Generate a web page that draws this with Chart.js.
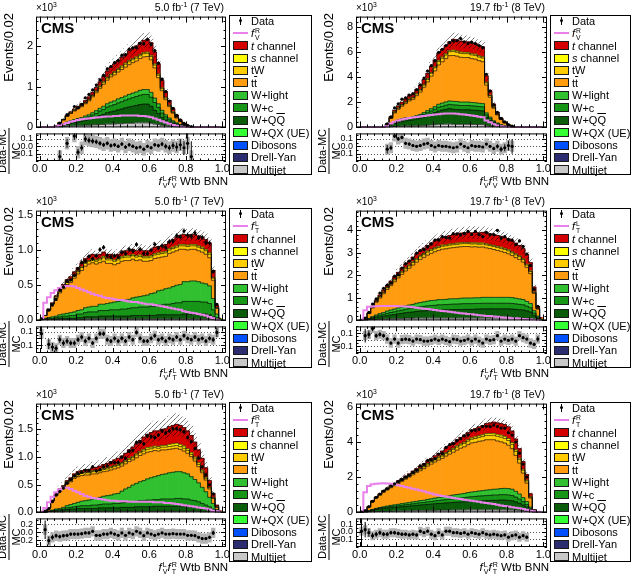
<!DOCTYPE html>
<html>
<head>
<meta charset="utf-8">
<script src="https://cdn.jsdelivr.net/npm/chart.js@4.4.1/dist/chart.umd.min.js"></script>
<style>
  html, body { margin: 0; background: #fff; }
  #fig { position: relative; width: 637px; height: 581px; overflow: hidden; font-family: "Liberation Sans", Arial, Helvetica, sans-serif; color: #000; }
  #fig canvas { position: absolute; }
  .t { position: absolute; white-space: nowrap; }
  .ss { display: inline-block; vertical-align: -0.4em; font-size: 0.62em; line-height: 0.95em; margin-left: 1px; text-align: left; font-style: normal; }
  .ss span { display: block; }
  sup { font-size: 0.68em; line-height: 0; vertical-align: 0.55em; }
  .leg { position: absolute; border: 1px solid #000; box-sizing: border-box; background: #fff; }
  .sw { position: absolute; box-sizing: border-box; border: 1px solid #1a1a1a; }
  .yt { position: absolute; width: 130px; text-align: right; transform-origin: 0 0; transform: rotate(-90deg) translateX(-130px); line-height: 15px; font-size: 13px; white-space: nowrap; }
  .rt { position: absolute; transform: translate(-50%, -50%) rotate(-90deg); text-align: center; font-size: 11px; line-height: 11px; white-space: nowrap; }
  .ov { text-decoration: overline; }
</style>
</head>
<body>
<div id="fig"></div>
<script>
// Events per 0.02 bin, in units of 10^3. Bins run 0.00-0.02 ... 0.98-1.00.
// Row 1 left: 7 TeV, f_V^R
const vr7_mj  = [0,0,0,0,.01,.01,.02,.03,.03,.04, .04,.04,.05,.05,.06,.06,.07,.07,.08,.08, .08,.09,.09,.10,.10,.10,.11,.11,.11,.11, .10,.08,.07,.05,.04,.03,.02,.01,.01,.01, 0,0,0,0,0,0,0,0,0,0];
const vr7_wqq = [0,0,0,0,.01,.02,.04,.05,.07,.08, .09,.11,.12,.14,.16,.19,.22,.25,.28,.30, .32,.34,.36,.38,.40,.42,.43,.45,.46,.46, .42,.34,.27,.19,.14,.10,.07,.05,.03,.02, .01,0,0,0,0,0,0,0,0,0];
const vr7_wc  = [0,0,0,0,0,.01,.02,.03,.03,.04, .05,.05,.06,.07,.08,.09,.11,.12,.14,.15, .16,.17,.18,.19,.20,.21,.22,.23,.24,.24, .22,.19,.15,.11,.08,.06,.04,.03,.02,.01, .01,0,0,0,0,0,0,0,0,0];
const vr7_wl  = [0,0,0,0,0,.01,.01,.02,.03,.03, .04,.04,.05,.05,.06,.07,.07,.08,.08,.09, .09,.10,.10,.10,.11,.11,.11,.12,.12,.12, .12,.11,.09,.07,.05,.04,.03,.02,.01,.01, 0,0,0,0,0,0,0,0,0,0];
const vr7_tt  = [0,0,0,0,.02,.06,.09,.14,.18,.21, .24,.27,.30,.34,.39,.44,.49,.54,.58,.62, .64,.66,.69,.71,.73,.75,.76,.78,.80,.81, .80,.74,.64,.48,.37,.28,.19,.12,.07,.03, .02,.01,0,0,0,0,0,0,0,0];
const vr7_tw  = [0,0,0,0,0,0,.01,.01,.01,.02, .02,.02,.02,.03,.03,.04,.04,.05,.05,.05, .06,.06,.06,.07,.07,.07,.07,.07,.08,.08, .08,.07,.06,.05,.04,.03,.02,.01,.01,0, 0,0,0,0,0,0,0,0,0,0];
const vr7_s   = [0,0,0,0,0,0,0,0,.01,.01, .01,.01,.01,.01,.01,.01,.02,.02,.02,.02, .02,.02,.03,.03,.03,.03,.03,.03,.03,.03, .03,.03,.03,.02,.02,.01,.01,.01,0,0, 0,0,0,0,0,0,0,0,0,0];
const vr7_t   = [0,0,0,0,0,.01,.01,.02,.02,.02, .03,.04,.05,.06,.07,.08,.10,.12,.15,.17, .19,.20,.21,.22,.24,.26,.27,.29,.30,.31, .31,.29,.25,.18,.14,.11,.08,.05,.03,.02, .01,.01,0,0,0,0,0,0,0,0];
const vr7_sig = [0,0,0,0,.02,.05,.08,.11,.14,.16, .18,.20,.21,.22,.23,.24,.25,.26,.27,.27, .28,.28,.29,.29,.29,.29,.29,.28,.28,.27, .25,.22,.19,.15,.12,.09,.06,.04,.02,.01, .01,0,0,0,0,0,0,0,0,0];
const vr7_ratio = [null,null,null,null,null,-.14,null,.04,null,.14, -.08,-.02,.10,.08,.07,.06,.04,.02,.04,.01, .02,0,.03,-.01,.02,0,-.02,-.01,-.04,0, -.02,.02,.01,.03,0,-.02,.01,-.01,.02,-.02, .04,-.14,null,null,null,null,null,null,null,null];

// Row 1 right: 8 TeV, f_V^R
const vr8_mj  = [0,0,0,0,0,0,0,.02,.04,.07, .09,.10,.11,.10,.11,.12,.13,.15,.17,.19, .21,.24,.25,.26,.27,.25,.24,.24,.24,.24, .23,.23,.23,.22,.12,.09,.06,.04,.02,.01, .01,0,0,0,0,0,0,0,0,0];
const vr8_wqq = [0,0,0,0,0,0,0,.05,.15,.24, .31,.36,.41,.45,.48,.54,.60,.68,.77,.87, .96,1.06,1.12,1.17,1.22,1.19,1.18,1.16,1.16,1.16, 1.14,1.13,1.10,1.09,.66,.46,.30,.19,.12,.07, .04,.02,0,0,0,0,0,0,0,0];
const vr8_wc  = [0,0,0,0,0,0,0,.02,.05,.08, .10,.12,.13,.13,.13,.15,.17,.19,.22,.24, .27,.30,.31,.33,.34,.35,.35,.34,.34,.34, .34,.33,.33,.32,.21,.15,.09,.06,.04,.02, .01,.01,0,0,0,0,0,0,0,0];
const vr8_wl  = [0,0,0,0,0,0,0,.02,.04,.07, .09,.10,.11,.10,.11,.12,.13,.15,.17,.19, .21,.24,.25,.26,.27,.28,.28,.27,.27,.27, .27,.27,.26,.26,.16,.12,.07,.05,.03,.02, .01,0,0,0,0,0,0,0,0,0];
const vr8_tt  = [0,0,0,0,0,0,0,.13,.43,.68, .85,1.00,1.13,1.32,1.40,1.59,1.78,2.02,2.28,2.58, 2.84,3.12,3.28,3.44,3.60,3.64,3.61,3.56,3.54,3.54, 3.48,3.46,3.38,3.33,2.21,1.57,1.00,.65,.41,.24, .12,.05,0,0,0,0,0,0,0,0];
const vr8_tw  = [0,0,0,0,0,0,0,.02,.04,.07, .08,.10,.11,.11,.12,.14,.15,.17,.19,.22, .24,.27,.28,.29,.31,.32,.31,.31,.31,.31, .30,.30,.29,.29,.18,.13,.08,.05,.03,.02, .01,.01,0,0,0,0,0,0,0,0];
const vr8_s   = [0,0,0,0,0,0,0,.01,.02,.03, .03,.04,.04,.04,.04,.05,.05,.06,.07,.07, .08,.09,.09,.10,.10,.11,.10,.10,.10,.10, .10,.10,.10,.10,.06,.04,.03,.02,.01,.01, 0,0,0,0,0,0,0,0,0,0];
const vr8_t   = [0,0,0,0,0,0,0,.03,.08,.12, .15,.18,.21,.25,.26,.29,.34,.38,.43,.49, .54,.58,.62,.65,.69,.86,.88,.87,.84,.84, .84,.83,.81,.79,.50,.34,.22,.14,.09,.05, .03,.01,0,0,0,0,0,0,0,0];
const vr8_sig = [0,0,0,0,0,0,0,.10,.30,.45, .55,.62,.68,.74,.78,.82,.86,.90,.94,.98, 1.02,1.05,1.08,1.10,1.10,1.10,1.08,1.05,1.02,.98, .94,.90,.85,.80,.55,.40,.26,.16,.10,.05, .02,.01,0,0,0,0,0,0,0,0];
const vr8_ratio = [null,null,null,null,null,null,null,-.04,-.02,.14, .10,.12,.04,.03,.01,0,.01,.03,.04,.01, -.01,.01,0,0,-.01,-.02,-.01,.03,0,-.02, .01,0,0,-.01,.03,0,-.03,0,-.04,-.02, .01,0,null,null,null,null,null,null,null,null];

// Row 2 left: 7 TeV, f_T^L
const tl7_mj  = [.01,.01,.01,.01,.01,.01,.01,.01,.01,.01, .01,.01,.02,.02,.02,.02,.02,.02,.02,.02, .02,.02,.02,.02,.02,.02,.02,.02,.02,.02, .02,.02,.02,.02,.02,.02,.02,.02,.02,.02, .02,.02,.02,.02,.02,.02,.02,.01,0,0];
const tl7_wqq = [0,.01,.01,.01,.01,.02,.02,.02,.02,.02, .03,.03,.03,.03,.03,.03,.04,.04,.04,.04, .04,.04,.04,.04,.04,.05,.05,.05,.05,.05, .05,.05,.06,.06,.06,.06,.06,.06,.06,.07, .07,.07,.07,.07,.07,.07,.06,.04,.01,0];
const tl7_wc  = [0,0,.01,.01,.02,.02,.03,.03,.04,.04, .05,.05,.06,.07,.07,.07,.08,.08,.08,.09, .09,.09,.10,.10,.11,.11,.11,.12,.12,.12, .13,.13,.14,.14,.15,.15,.16,.17,.17,.18, .18,.18,.18,.18,.17,.17,.16,.10,.03,.01];
const tl7_wl  = [0,.01,.01,.02,.02,.03,.03,.04,.04,.05, .05,.06,.07,.07,.08,.08,.09,.09,.10,.10, .11,.12,.12,.13,.13,.14,.15,.15,.16,.17, .18,.19,.20,.21,.22,.23,.24,.25,.26,.28, .28,.29,.29,.28,.27,.26,.25,.16,.05,.01];
const tl7_tt  = [.01,.04,.10,.18,.25,.31,.36,.41,.43,.48, .52,.56,.59,.61,.62,.60,.59,.61,.57,.56, .53,.54,.56,.56,.55,.55,.52,.52,.49,.48, .47,.49,.47,.47,.46,.49,.49,.49,.50,.46, .45,.45,.45,.44,.44,.42,.40,.26,.08,.01];
const tl7_tw  = [0,0,.01,.01,.02,.02,.02,.03,.03,.03, .03,.04,.04,.04,.04,.04,.04,.05,.05,.05, .05,.05,.05,.05,.05,.05,.05,.05,.05,.05, .05,.05,.05,.05,.05,.05,.05,.05,.05,.05, .05,.05,.05,.05,.05,.05,.05,.03,.01,0];
const tl7_s   = [0,0,0,0,.01,.01,.01,.01,.01,.01, .01,.01,.01,.01,.02,.02,.02,.02,.02,.02, .02,.02,.02,.02,.02,.02,.02,.02,.02,.02, .02,.02,.02,.02,.02,.02,.02,.02,.02,.02, .02,.02,.02,.02,.02,.02,.02,.01,0,0];
const tl7_t   = [0,0,.01,.01,.01,.02,.03,.03,.04,.05, .05,.05,.06,.06,.06,.06,.06,.06,.06,.06, .06,.06,.06,.07,.07,.07,.07,.08,.08,.08, .08,.09,.09,.09,.10,.10,.11,.12,.13,.14, .14,.14,.14,.14,.14,.14,.14,.10,.03,0];
const tl7_sig = [.03,.25,.33,.39,.43,.46,.48,.49,.49,.48, .46,.44,.42,.40,.38,.36,.35,.33,.32,.31, .30,.29,.29,.28,.27,.26,.26,.25,.24,.23, .23,.22,.21,.20,.19,.18,.17,.16,.15,.13, .12,.11,.10,.09,.08,.07,.05,.03,.01,0];
const tl7_ratio = [.07,null,-.09,-.13,-.15,-.02,-.07,-.04,-.07,-.07, -.02,.02,-.04,0,-.07,0,.07,.07,-.02,-.04, 0,-.04,0,-.04,.02,-.02,.09,0,-.04,-.04, 0,.04,-.02,0,-.04,0,-.02,.02,-.02,.04, 0,-.02,.02,-.02,0,-.04,0,-.02,.09,null];

// Row 2 right: 8 TeV, f_T^L
const tl8_mj  = [.01,.01,.02,.03,.04,.05,.06,.06,.07,.07, .08,.08,.09,.09,.09,.10,.10,.10,.10,.10, .10,.10,.10,.10,.10,.10,.10,.10,.10,.10, .10,.10,.10,.10,.10,.10,.10,.10,.10,.10, .10,.10,.10,.09,.09,.08,.07,.04,.02,0];
const tl8_wqq = [0,.01,.03,.06,.09,.11,.13,.15,.17,.19, .21,.23,.25,.27,.28,.30,.31,.32,.33,.34, .35,.36,.36,.37,.37,.38,.38,.38,.39,.39, .39,.40,.40,.41,.41,.41,.41,.41,.41,.41, .41,.40,.39,.38,.37,.34,.30,.17,.07,.01];
const tl8_wc  = [0,.01,.02,.04,.06,.07,.08,.10,.11,.12, .13,.14,.15,.16,.17,.18,.19,.20,.21,.22, .22,.23,.23,.23,.24,.24,.24,.25,.25,.25, .25,.25,.25,.25,.25,.25,.25,.25,.25,.25, .25,.25,.24,.24,.23,.21,.19,.11,.05,.01];
const tl8_wl  = [0,0,.02,.04,.05,.07,.08,.10,.11,.12, .13,.14,.15,.16,.17,.18,.19,.20,.21,.22, .22,.23,.23,.23,.24,.24,.24,.25,.25,.25, .25,.25,.25,.26,.26,.26,.26,.26,.26,.26, .26,.26,.25,.24,.23,.21,.19,.11,.05,.01];
const tl8_tt  = [.01,.06,.21,.38,.56,.69,.83,.96,1.08,1.21, 1.33,1.45,1.55,1.63,1.74,1.82,1.91,1.97,2.04,2.09, 2.15,2.18,2.23,2.24,2.25,2.26,2.28,2.28,2.28,2.28, 2.26,2.26,2.24,2.23,2.19,2.16,2.12,2.08,2.04,1.99, 1.93,1.86,1.80,1.75,1.66,1.51,1.32,.76,.31,.06];
const tl8_tw  = [0,0,.01,.03,.04,.05,.06,.07,.07,.08, .09,.09,.10,.10,.11,.11,.12,.12,.13,.13, .13,.13,.13,.13,.13,.13,.13,.13,.13,.13, .13,.13,.13,.13,.13,.13,.13,.13,.13,.13, .13,.12,.12,.12,.11,.10,.09,.05,.02,0];
const tl8_s   = [0,0,.01,.01,.01,.02,.02,.02,.03,.03, .03,.04,.04,.04,.04,.05,.05,.05,.05,.05, .05,.05,.05,.05,.05,.05,.05,.05,.05,.05, .05,.05,.05,.05,.05,.05,.05,.05,.05,.05, .05,.05,.05,.04,.04,.04,.03,.02,.01,0];
const tl8_t   = [0,.01,.01,.03,.05,.06,.08,.09,.10,.12, .13,.15,.16,.18,.20,.21,.22,.24,.25,.27, .30,.32,.34,.36,.38,.40,.41,.42,.43,.45, .45,.46,.46,.47,.47,.47,.48,.48,.48,.48, .48,.48,.47,.46,.45,.42,.37,.22,.09,.03];
const tl8_sig = [.05,.45,.60,.62,.63,.64,.64,.64,.64,.64, .63,.63,.62,.60,.58,.56,.54,.52,.50,.48, .46,.44,.42,.40,.38,.36,.34,.32,.30,.28, .27,.25,.23,.22,.20,.19,.17,.16,.14,.13, .12,.10,.09,.08,.06,.05,.04,.03,.01,0];
const tl8_ratio = [null,.06,.08,.17,.06,.08,.06,.01,-.05,.01, -.05,0,.01,0,-.02,.01,0,-.02,-.02,-.01, .01,-.01,.01,-.01,-.03,.01,0,-.02,-.01,.01, -.02,.01,-.02,-.05,.01,-.01,0,.06,-.02,.01, -.01,.01,-.02,.06,.03,.01,-.05,-.07,.01,null];

// Row 3 left: 7 TeV, f_T^R
const tr7_mj  = [0,0,.01,.01,.01,.01,.01,.02,.02,.02, .02,.02,.02,.02,.02,.02,.02,.02,.02,.02, .02,.02,.02,.02,.02,.02,.02,.02,.02,.02, .02,.02,.02,.02,.02,.02,.02,.02,.02,.02, .02,.02,.02,.02,.01,.01,.01,.01,0,0];
const tr7_wqq = [0,0,.01,.01,.02,.02,.03,.03,.04,.04, .05,.05,.05,.05,.05,.05,.06,.06,.06,.06, .06,.06,.07,.07,.07,.07,.08,.08,.08,.08, .08,.09,.09,.09,.09,.09,.09,.09,.09,.09, .09,.08,.08,.07,.06,.05,.04,.02,.01,0];
const tr7_wc  = [0,0,0,.01,.01,.02,.02,.03,.03,.04, .04,.05,.05,.05,.06,.06,.06,.07,.07,.07, .08,.08,.08,.09,.09,.10,.10,.11,.11,.12, .12,.12,.12,.13,.13,.13,.13,.14,.14,.13, .13,.12,.11,.10,.09,.07,.05,.03,.01,0];
const tr7_wl  = [0,0,0,.01,.02,.02,.03,.04,.05,.06, .07,.08,.09,.10,.11,.12,.13,.14,.15,.16, .17,.18,.21,.24,.27,.30,.32,.34,.36,.38, .40,.41,.43,.44,.45,.47,.48,.48,.48,.47, .45,.42,.38,.34,.29,.24,.17,.10,.03,.01];
const tr7_tt  = [0,.02,.06,.16,.25,.31,.34,.39,.41,.45, .46,.46,.46,.45,.45,.44,.44,.44,.44,.45, .45,.46,.45,.45,.46,.45,.46,.47,.48,.48, .47,.47,.44,.44,.43,.42,.42,.42,.40,.39, .37,.36,.33,.29,.26,.21,.15,.09,.04,.01];
const tr7_tw  = [0,0,0,.01,.01,.02,.02,.03,.03,.03, .04,.04,.04,.04,.04,.04,.04,.04,.04,.04, .04,.04,.04,.04,.04,.04,.05,.05,.05,.05, .05,.05,.05,.05,.05,.05,.05,.05,.05,.05, .05,.04,.04,.04,.03,.03,.02,.01,.01,0];
const tr7_s   = [0,0,0,0,.01,.01,.01,.01,.01,.01, .01,.01,.01,.01,.02,.02,.02,.02,.02,.02, .02,.02,.02,.02,.02,.02,.02,.02,.03,.03, .03,.03,.03,.03,.03,.04,.04,.04,.04,.04, .03,.03,.03,.03,.02,.02,.01,.01,0,0];
const tr7_t   = [0,0,0,.01,.01,.01,.02,.02,.03,.04, .04,.04,.05,.05,.05,.06,.06,.07,.08,.09, .10,.11,.12,.13,.15,.17,.18,.20,.22,.24, .26,.27,.28,.29,.30,.32,.33,.34,.34,.33, .32,.31,.27,.23,.21,.17,.12,.07,.03,.01];
const tr7_sig = [.02,.08,.18,.28,.36,.41,.44,.44,.42,.39, .36,.33,.30,.28,.26,.25,.24,.23,.22,.21, .21,.20,.20,.20,.19,.19,.19,.19,.19,.19, .19,.18,.18,.18,.17,.17,.16,.15,.14,.13, .12,.11,.10,.09,.08,.07,.05,.03,.02,.01];
const tr7_ratio = [null,.06,-.21,-.13,-.09,-.11,-.09,-.08,-.05,-.05, -.05,-.04,-.02,-.02,.02,-.08,-.08,-.05,-.05,-.02, -.05,-.08,-.02,-.08,-.02,-.05,.02,-.02,-.09,-.02, -.05,-.08,-.05,-.02,-.05,-.05,-.04,-.05,-.05,-.05, -.08,-.08,-.09,-.13,-.16,-.16,-.13,-.02,null,null];

// Row 3 right: 8 TeV, f_T^R
const tr8_mj  = [.01,.01,.02,.03,.04,.05,.05,.06,.06,.07, .07,.08,.08,.09,.09,.10,.10,.10,.11,.11, .11,.12,.12,.12,.12,.13,.13,.13,.13,.14, .14,.14,.14,.14,.14,.14,.14,.14,.14,.14, .13,.13,.12,.10,.08,.06,.03,0,0,0];
const tr8_wqq = [0,.02,.05,.09,.12,.14,.16,.18,.20,.21, .23,.24,.26,.27,.29,.30,.32,.33,.35,.36, .38,.39,.40,.42,.43,.44,.45,.46,.47,.48, .49,.50,.51,.52,.53,.54,.55,.55,.56,.56, .55,.53,.48,.42,.34,.25,.12,.02,0,0];
const tr8_wc  = [0,0,.01,.03,.04,.05,.06,.06,.07,.08, .08,.09,.10,.10,.11,.12,.13,.13,.14,.15, .16,.17,.18,.19,.20,.21,.22,.23,.24,.25, .26,.27,.28,.28,.29,.29,.30,.30,.31,.31, .31,.30,.27,.24,.19,.14,.07,.01,0,0];
const tr8_wl  = [0,0,.01,.02,.03,.04,.05,.06,.07,.07, .08,.09,.09,.10,.11,.11,.12,.13,.14,.15, .16,.17,.18,.19,.20,.21,.22,.23,.24,.26, .27,.28,.29,.30,.31,.32,.33,.34,.35,.36, .37,.36,.33,.29,.23,.17,.08,.01,0,0];
const tr8_tt  = [.01,.07,.22,.44,.59,.70,.83,.92,1.00,1.09, 1.19,1.27,1.36,1.45,1.54,1.64,1.70,1.80,1.90,1.98, 2.06,2.13,2.20,2.29,2.37,2.44,2.53,2.61,2.66,2.73, 2.80,2.80,2.83,2.84,2.87,2.85,2.82,2.74,2.66,2.58, 2.47,2.31,2.05,1.76,1.40,1.05,.51,.07,.02,0];
const tr8_tw  = [0,0,.01,.02,.03,.04,.05,.05,.06,.06, .07,.07,.08,.08,.09,.10,.10,.11,.11,.12, .12,.13,.13,.14,.15,.16,.17,.18,.19,.20, .21,.22,.23,.24,.25,.25,.26,.27,.27,.27, .27,.25,.23,.20,.16,.12,.06,.01,0,0];
const tr8_s   = [0,0,.01,.01,.01,.01,.02,.02,.02,.02, .02,.03,.03,.03,.03,.04,.04,.04,.04,.05, .05,.05,.05,.06,.06,.06,.07,.07,.07,.08, .08,.09,.09,.10,.10,.11,.11,.11,.11,.11, .11,.10,.09,.08,.06,.05,.02,0,0,0];
const tr8_t   = [0,0,0,.02,.02,.03,.03,.04,.04,.05, .06,.06,.07,.08,.09,.09,.11,.13,.15,.16, .19,.20,.24,.26,.29,.31,.34,.37,.40,.41, .45,.47,.51,.53,.57,.60,.63,.65,.66,.67, .67,.66,.61,.54,.44,.33,.17,.03,.02,0];
const tr8_sig = [.10,1.15,1.50,1.60,1.63,1.65,1.66,1.65,1.63,1.60, 1.55,1.50,1.45,1.40,1.35,1.30,1.25,1.20,1.14,1.08, 1.02,.98,.94,.90,.86,.82,.79,.76,.72,.69, .66,.63,.60,.57,.54,.51,.48,.44,.40,.37, .33,.30,.26,.23,.19,.15,.10,.06,.03,.01];
const tr8_ratio = [.01,.03,-.01,-.05,-.03,-.01,-.03,-.03,-.01,-.01, -.02,-.03,-.03,-.04,-.03,-.04,.01,-.01,.01,-.03, -.05,-.01,-.04,.01,.01,-.01,-.01,-.02,-.01,-.03, -.01,-.02,-.03,-.01,-.03,-.04,-.03,-.04,-.05,-.04, -.07,-.05,-.04,-.07,-.05,-.07,null,null,null,null];

// relative MC uncertainty (hatched band / grey boxes)
const MC_UNC = { vr7: .08, vr8: .07, tl7: .07, tl8: .065, tr7: .12, tr8: .055 };

const BIN_CENTERS = Array.from({ length: 50 }, (_, i) => +(0.01 + 0.02 * i).toFixed(2));
const X_MAJOR = [0, 0.2, 0.4, 0.6, 0.8, 1.0];

// bottom to top
const STACK = ['mj', 'wqq', 'wc', 'wl', 'tt', 'tw', 's', 't'];
const COLORS = { t: '#d40000', s: '#ffff00', tw: '#ffcc00', tt: '#ff9c0f', wl: '#30c030', wc: '#179517', wqq: '#0a5c0a', wqx: '#33ff33', vv: '#0050ff', dy: '#2c2c70', mj: '#c8c8c8' };
const PINK = '#ea80ea';
const FONT = '"Liberation Sans", Arial, Helvetica, sans-serif';

Chart.defaults.font.family = FONT;
Chart.defaults.color = '#000';

const fig = document.getElementById('fig');

const PANELS = [
  { id: 'vr7', comp: { mj: vr7_mj, wqq: vr7_wqq, wc: vr7_wc, wl: vr7_wl, tt: vr7_tt, tw: vr7_tw, s: vr7_s, t: vr7_t }, sig: vr7_sig, ratio: vr7_ratio,
    L: 36, R: 226, top: 15, mid: 129, bot: 161, legX: 229, legY: 15, legW: 83, lumi: '5.0', tev: 7, sub: 'V', sup: 'R',
    yMax: 2.72, yTicks: [0, 1, 2], yMinor: 0.2, yDec: 0, rMin: -0.2, rMax: 0.175, rTicks: [-0.1, 0, 0.1], rMinor: 0.05 },
  { id: 'vr8', comp: { mj: vr8_mj, wqq: vr8_wqq, wc: vr8_wc, wl: vr8_wl, tt: vr8_tt, tw: vr8_tw, s: vr8_s, t: vr8_t }, sig: vr8_sig, ratio: vr8_ratio,
    L: 356, R: 547, top: 15, mid: 129, bot: 161, legX: 550, legY: 15, legW: 81, lumi: '19.7', tev: 8, sub: 'V', sup: 'R',
    yMax: 8.8, yTicks: [0, 2, 4, 6, 8], yMinor: 0.4, yDec: 0, rMin: -0.2, rMax: 0.175, rTicks: [-0.1, 0, 0.1], rMinor: 0.05 },
  { id: 'tl7', comp: { mj: tl7_mj, wqq: tl7_wqq, wc: tl7_wc, wl: tl7_wl, tt: tl7_tt, tw: tl7_tw, s: tl7_s, t: tl7_t }, sig: tl7_sig, ratio: tl7_ratio,
    L: 36, R: 226, top: 209, mid: 322, bot: 353, legX: 229, legY: 208, legW: 83, lumi: '5.0', tev: 7, sub: 'T', sup: 'L',
    yMax: 1.56, yTicks: [0, 0.5, 1, 1.5], yMinor: 0.1, yDec: 1, rMin: -0.22, rMax: 0.18, rTicks: [-0.1, 0, 0.1], rMinor: 0.05 },
  { id: 'tl8', comp: { mj: tl8_mj, wqq: tl8_wqq, wc: tl8_wc, wl: tl8_wl, tt: tl8_tt, tw: tl8_tw, s: tl8_s, t: tl8_t }, sig: tl8_sig, ratio: tl8_ratio,
    L: 356, R: 547, top: 209, mid: 322, bot: 353, legX: 550, legY: 208, legW: 81, lumi: '19.7', tev: 8, sub: 'T', sup: 'L',
    yMax: 4.86, yTicks: [0, 1, 2, 3, 4], yMinor: 0.2, yDec: 0, rMin: -0.2, rMax: 0.2, rTicks: [-0.1, 0, 0.1], rMinor: 0.05 },
  { id: 'tr7', comp: { mj: tr7_mj, wqq: tr7_wqq, wc: tr7_wc, wl: tr7_wl, tt: tr7_tt, tw: tr7_tw, s: tr7_s, t: tr7_t }, sig: tr7_sig, ratio: tr7_ratio,
    L: 36, R: 226, top: 402, mid: 514, bot: 547, legX: 229, legY: 402, legW: 83, lumi: '5.0', tev: 7, sub: 'T', sup: 'R',
    yMax: 1.95, yTicks: [0, 0.5, 1, 1.5], yMinor: 0.1, yDec: 1, rMin: -0.37, rMax: 0.34, rTicks: [-0.2, 0, 0.2], rMinor: 0.1 },
  { id: 'tr8', comp: { mj: tr8_mj, wqq: tr8_wqq, wc: tr8_wc, wl: tr8_wl, tt: tr8_tt, tw: tr8_tw, s: tr8_s, t: tr8_t }, sig: tr8_sig, ratio: tr8_ratio,
    L: 356, R: 547, top: 402, mid: 514, bot: 547, legX: 550, legY: 402, legW: 81, lumi: '19.7', tev: 8, sub: 'T', sup: 'R',
    yMax: 6.2, yTicks: [0, 2, 4, 6], yMinor: 0.4, yDec: 0, rMin: -0.2, rMax: 0.18, rTicks: [-0.1, 0, 0.1], rMinor: 0.05 }
];

function makeHatch() {
  const c = document.createElement('canvas');
  c.width = 5; c.height = 5;
  const g = c.getContext('2d');
  g.strokeStyle = 'rgba(0,0,0,0.65)';
  g.lineWidth = 0.7;
  g.beginPath();
  g.moveTo(0, 5); g.lineTo(5, 0);
  g.moveTo(-1, 1); g.lineTo(1, -1);
  g.moveTo(4, 6); g.lineTo(6, 4);
  g.stroke();
  return g.createPattern(c, 'repeat');
}
const HATCH = makeHatch();

// frame with inner ticks on all four sides, ROOT style
function framePlugin(yMajor, yMinorStep, dotted, tickLen) {
  return {
    id: 'frame',
    beforeDatasetsDraw(chart) {
      if (!dotted) return;
      const { ctx, chartArea: a, scales: { y } } = chart;
      ctx.save();
      ctx.strokeStyle = '#555';
      ctx.lineWidth = 1;
      ctx.setLineDash([1, 2]);
      for (const v of yMajor) {
        const py = Math.round(y.getPixelForValue(v)) + 0.5;
        ctx.beginPath(); ctx.moveTo(a.left, py); ctx.lineTo(a.right, py); ctx.stroke();
      }
      ctx.restore();
    },
    afterDatasetsDraw(chart) {
      const { ctx, chartArea: a, scales: { x, y } } = chart;
      ctx.save();
      ctx.strokeStyle = '#000';
      ctx.lineWidth = 1;
      ctx.beginPath();
      for (let k = 0; k <= 25; k++) {
        const len = k % 5 === 0 ? tickLen : tickLen / 2;
        const px = Math.round(x.getPixelForValue(k * 0.04)) + 0.5;
        ctx.moveTo(px, a.bottom); ctx.lineTo(px, a.bottom - len);
        ctx.moveTo(px, a.top); ctx.lineTo(px, a.top + len);
      }
      for (let k = Math.ceil(y.min / yMinorStep - 1e-6); k * yMinorStep <= y.max + 1e-9; k++) {
        const v = k * yMinorStep;
        const len = yMajor.some(m => Math.abs(m - v) < 1e-6) ? 5 : 2.5;
        const py = Math.round(y.getPixelForValue(v)) + 0.5;
        ctx.moveTo(a.left, py); ctx.lineTo(a.left + len, py);
        ctx.moveTo(a.right, py); ctx.lineTo(a.right - len, py);
      }
      ctx.stroke();
      ctx.strokeRect(a.left + 0.5, a.top + 0.5, a.right - a.left - 1, a.bottom - a.top - 1);
      ctx.restore();
    }
  };
}

function addCanvas(left, top, w, h) {
  const cv = document.createElement('canvas');
  cv.width = w; cv.height = h;
  cv.style.left = left + 'px';
  cv.style.top = top + 'px';
  fig.appendChild(cv);
  return cv;
}

function txt(html, left, top, css) {
  const d = document.createElement('div');
  d.className = 't';
  d.innerHTML = html;
  d.style.left = left + 'px';
  d.style.top = top + 'px';
  if (css) d.style.cssText += css;
  fig.appendChild(d);
  return d;
}

function fsym(sub, sup) {
  return '<i>f</i><span class="ss"><span>' + sup + '</span><span>' + sub + '</span></span>';
}

function drawPanel(p) {
  const unc = MC_UNC[p.id];
  const total = BIN_CENTERS.map((_, b) => STACK.reduce((s, k) => s + p.comp[k][b], 0));
  const W = p.R - p.L + 46;

  // ---- main pad ----
  // filled stack (no borders so the bins join cleanly)
  const ds = STACK.map(k => ({
    type: 'bar', label: k,
    data: p.comp[k].map((v, b) => ({ x: BIN_CENTERS[b], y: v })),
    backgroundColor: COLORS[k], borderWidth: 0,
    stack: 'mc', grouped: false, order: 10, barPercentage: 1, categoryPercentage: 1
  }));
  // step outline of every stacked component
  STACK.forEach(k => ds.push({
    type: 'line', data: p.comp[k].map((v, b) => ({ x: BIN_CENTERS[b], y: v })),
    borderColor: 'rgba(10,10,10,0.85)', borderWidth: 0.8, stepped: 'middle', pointRadius: 0, fill: false,
    stack: 'outline', order: 5
  }));
  const band = [], pts = [], errs = [], rows = [];
  total.forEach((T, b) => {
    if (T <= 0) return;
    band.push({ x: BIN_CENTERS[b], y: [T * (1 - unc), T * (1 + unc)] });
    const r = p.ratio[b];
    if (r === null) return;
    const d = T * (1 + r);
    const e = Math.sqrt(d * 1000) / 1000;
    pts.push({ x: BIN_CENTERS[b], y: d });
    errs.push({ x: BIN_CENTERS[b], y: [d - e, d + e] });
    rows.push({ x: BIN_CENTERS[b], r, e: e / T });
  });
  ds.push({ type: 'bar', data: band, backgroundColor: HATCH, borderWidth: 0, stack: 'unc', grouped: false, order: 3, barPercentage: 1, categoryPercentage: 1 });
  ds.push({ type: 'line', data: p.sig.map((v, b) => ({ x: BIN_CENTERS[b], y: v })), borderColor: PINK, borderWidth: 2, stepped: 'middle', pointRadius: 0, fill: false, stack: 'sig', order: 2 });
  ds.push({ type: 'bar', data: errs, backgroundColor: '#000', barThickness: 1, inflateAmount: 0, grouped: false, stack: 'err', order: 1 });
  ds.push({ type: 'scatter', data: pts, pointRadius: 1.6, pointBackgroundColor: '#000', pointBorderWidth: 0, stack: 'pts', order: 0 });

  new Chart(addCanvas(p.L - 36, p.top - 8, W, p.mid - p.top + 16), {
    type: 'bar',
    data: { datasets: ds },
    plugins: [framePlugin(p.yTicks, p.yMinor, false, 6)],
    options: {
      responsive: false, animation: false, events: [],
      layout: { padding: { left: 0, top: 8, right: 10, bottom: 8 } },
      plugins: { legend: { display: false }, tooltip: { enabled: false } },
      scales: {
        x: { type: 'linear', min: -0.02, max: 1.02, offset: false, display: false,
             afterBuildTicks: ax => { ax.ticks = X_MAJOR.map(v => ({ value: v })); } },
        y: { type: 'linear', stacked: true, min: 0, max: p.yMax,
             afterFit: ax => { ax.width = 36; },
             afterBuildTicks: ax => { ax.ticks = p.yTicks.map(v => ({ value: v })); },
             grid: { display: false, drawTicks: false }, border: { display: false },
             ticks: { padding: 3, font: { size: 11 }, color: '#000', callback: v => v.toFixed(p.yDec) } }
      }
    }
  });

  // ---- ratio pad ----
  const rds = [
    { type: 'bar', data: rows.map(o => ({ x: o.x, y: [o.r - unc, o.r + unc] })), backgroundColor: '#b3b3b3', borderWidth: 0, grouped: false, order: 3, barPercentage: 1, categoryPercentage: 1 },
    { type: 'bar', data: rows.map(o => ({ x: o.x, y: [o.r - o.e, o.r + o.e] })), backgroundColor: '#000', barThickness: 1, inflateAmount: 0, grouped: false, order: 1 },
    { type: 'scatter', data: rows.map(o => ({ x: o.x, y: o.r })), pointRadius: 1.6, pointBackgroundColor: '#000', pointBorderWidth: 0, order: 0 }
  ];
  new Chart(addCanvas(p.L - 36, p.mid - 4, W, p.bot - p.mid + 22), {
    type: 'bar',
    data: { datasets: rds },
    plugins: [framePlugin(p.rTicks, p.rMinor, true, 5)],
    options: {
      responsive: false, animation: false, events: [],
      layout: { padding: { left: 0, top: 4, right: 10, bottom: 0 } },
      plugins: { legend: { display: false }, tooltip: { enabled: false } },
      scales: {
        x: { type: 'linear', min: -0.02, max: 1.02, offset: false,
             afterFit: ax => { ax.height = 18; },
             afterBuildTicks: ax => { ax.ticks = X_MAJOR.map(v => ({ value: v })); },
             grid: { display: false, drawTicks: false }, border: { display: false },
             ticks: { padding: 1, autoSkip: false, maxRotation: 0, minRotation: 0, font: { size: 11 }, color: '#000', callback: v => v.toFixed(1) } },
        y: { type: 'linear', min: p.rMin, max: p.rMax,
             afterFit: ax => { ax.width = 36; },
             afterBuildTicks: ax => { ax.ticks = p.rTicks.map(v => ({ value: v })); },
             grid: { display: false, drawTicks: false }, border: { display: false },
             ticks: { padding: 3, font: { size: 9 }, color: '#000', callback: v => v.toFixed(1) } }
      }
    }
  });

  // ---- texts ----
  txt('&times;10<sup>3</sup>', p.L, p.top - 13, 'font-size:10px;line-height:12px;');
  const lumi = txt(p.lumi + ' fb<sup>-1</sup> (' + p.tev + ' TeV)', 0, p.top - 14, 'font-size:10.5px;line-height:12px;width:120px;text-align:right;');
  lumi.style.left = (p.R - 2 - 120) + 'px';
  txt('CMS', p.L + 5, p.top + 4, 'font-size:15px;font-weight:bold;line-height:17px;');
  const yt = document.createElement('div');
  yt.className = 'yt';
  yt.textContent = 'Events/0.02';
  yt.style.left = (p.L - 35) + 'px';
  yt.style.top = (p.top - 2) + 'px';
  fig.appendChild(yt);
  const rt = document.createElement('div');
  rt.className = 'rt';
  rt.innerHTML = '<div style="border-bottom:1px solid #000;padding:0 1px 1px">Data-MC</div><div style="padding-top:1px">MC</div>';
  rt.style.left = (p.L - 27) + 'px';
  rt.style.top = ((p.mid + p.bot) / 2 + 6) + 'px';
  fig.appendChild(rt);
  txt(fsym('V', 'L') + fsym(p.sub, p.sup) + ' Wtb BNN', p.R + 2 - 150, p.bot + 12, 'font-size:11.5px;line-height:16px;width:150px;text-align:right;');

  // ---- legend ----
  const leg = document.createElement('div');
  leg.className = 'leg';
  leg.style.left = p.legX + 'px';
  leg.style.top = p.legY + 'px';
  leg.style.width = p.legW + 'px';
  leg.style.height = '160px';
  fig.appendChild(leg);
  const entries = [
    ['data', 'Data'], ['sig', fsym(p.sub, p.sup)],
    ['t', '<i>t</i> channel'], ['s', '<i>s</i> channel'], ['tw', 'tW'], ['tt', 't<span class="ov">t</span>'],
    ['wl', 'W+light'], ['wc', 'W+c'], ['wqq', 'W+Q<span class="ov">Q</span>'], ['wqx', 'W+QX (UE)'],
    ['vv', 'Dibosons'], ['dy', 'Drell-Yan'], ['mj', 'Multijet']
  ];
  entries.forEach(([key, label], k) => {
    const cy = p.legY + 5.8 + 12.42 * k;
    const sx = p.legX + 4;
    if (key === 'data') {
      txt('', sx + 7, cy - 4, 'width:1px;height:8px;background:#000;');
      txt('', sx + 6, cy - 1.5, 'width:3px;height:3px;border-radius:50%;background:#000;');
    } else if (key === 'sig') {
      txt('', sx, cy - 1, 'width:15px;height:2px;background:' + PINK + ';');
    } else {
      const sw = document.createElement('div');
      sw.className = 'sw';
      sw.style.cssText += 'left:' + sx + 'px;top:' + (cy - 4.5) + 'px;width:15px;height:9px;background:' + COLORS[key] + ';';
      fig.appendChild(sw);
    }
    txt(label, p.legX + 22, cy - 7, 'font-size:11px;line-height:14px;');
  });
}

PANELS.forEach(drawPanel);
</script>
</body>
</html>
